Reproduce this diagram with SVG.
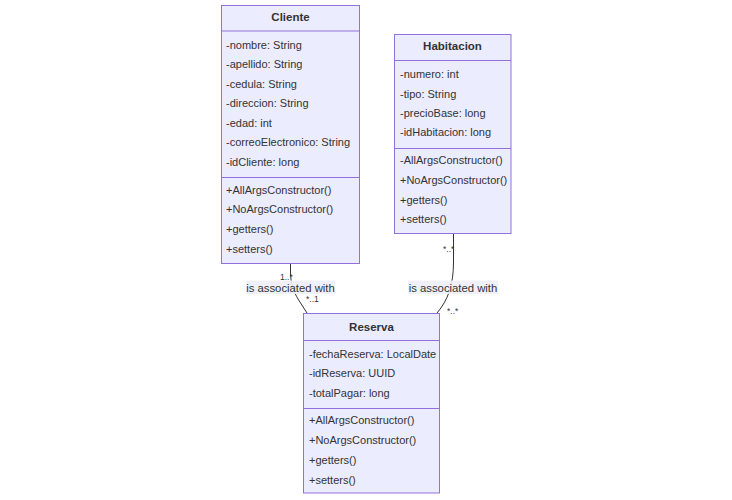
<svg xmlns="http://www.w3.org/2000/svg" width="732" height="500" viewBox="0 0 732 500">
  <style>
    .box { fill: #ECECFF; stroke: #9370DB; stroke-width: 1; }
    .sep { stroke: #9370DB; stroke-width: 1; }
    .title { font-family: "Liberation Sans", Arial, sans-serif; font-size: 11.5px; font-weight: bold; fill: #333; text-anchor: middle; }
    .member { font-family: "Liberation Sans", Arial, sans-serif; font-size: 11px; fill: #333; }
    .edge { fill: none; stroke: #333; stroke-width: 1; }
    .elabel-bg { fill: #EEEEFA; opacity: 0.9; }
    .elabel { font-family: "Liberation Sans", Arial, sans-serif; font-size: 11.3px; fill: #333; text-anchor: middle; }
    .mult { font-family: "Liberation Sans", Arial, sans-serif; font-size: 8.5px; fill: #333; }
  </style>

  <rect width="732" height="500" fill="#ffffff"/>

  <g id="connectors">
    <path class="edge" d="M290.5,263 L290.5,272 C290.5,284 294,292 298,299 L307,313"/>
    <path class="edge" d="M453.5,234 L453.5,262 C453.5,285 448,300 437,313"/>
    <rect class="elabel-bg" x="246" y="280.5" width="89" height="13.5"/>
    <text class="elabel" x="290.5" y="291.5">is associated with</text>
    <rect class="elabel-bg" x="408" y="280.5" width="90" height="13.5"/>
    <text class="elabel" x="453" y="291.5">is associated with</text>
    <text class="mult" x="280" y="279.5">1..*</text>
    <text class="mult" x="306" y="302">*..1</text>
    <text class="mult" x="443" y="252">*..*</text>
    <text class="mult" x="447" y="314">*..*</text>
  </g>

  <g id="Cliente">
    <rect class="box" x="221.5" y="5.5" width="138" height="258"/>
    <line class="sep" x1="221.5" y1="31" x2="359.5" y2="31"/>
    <line class="sep" x1="221.5" y1="177.5" x2="359.5" y2="177.5"/>
    <text class="title" x="290.5" y="21">Cliente</text>
    <text class="member" x="226" y="48.5">-nombre: String</text>
    <text class="member" x="226" y="67.5">-apellido: String</text>
    <text class="member" x="226" y="87.5">-cedula: String</text>
    <text class="member" x="226" y="106.5">-direccion: String</text>
    <text class="member" x="226" y="126.5">-edad: int</text>
    <text class="member" x="226" y="146">-correoElectronico: String</text>
    <text class="member" x="226" y="166">-idCliente: long</text>
    <text class="member" x="226" y="194">+AllArgsConstructor()</text>
    <text class="member" x="226" y="213">+NoArgsConstructor()</text>
    <text class="member" x="226" y="233">+getters()</text>
    <text class="member" x="226" y="252.5">+setters()</text>
  </g>

  <g id="Habitacion">
    <rect class="box" x="394.5" y="34.5" width="116.5" height="199"/>
    <line class="sep" x1="394.5" y1="60.5" x2="511" y2="60.5"/>
    <line class="sep" x1="394.5" y1="148.5" x2="511" y2="148.5"/>
    <text class="title" x="452.5" y="50">Habitacion</text>
    <text class="member" x="400" y="78">-numero: int</text>
    <text class="member" x="400" y="97.5">-tipo: String</text>
    <text class="member" x="400" y="117">-precioBase: long</text>
    <text class="member" x="400" y="136">-idHabitacion: long</text>
    <text class="member" x="400" y="164">-AllArgsConstructor()</text>
    <text class="member" x="400" y="184">+NoArgsConstructor()</text>
    <text class="member" x="400" y="203.5">+getters()</text>
    <text class="member" x="400" y="223">+setters()</text>
  </g>

  <g id="Reserva">
    <rect class="box" x="303.5" y="313.5" width="136" height="179.5"/>
    <line class="sep" x1="303.5" y1="340.5" x2="439.5" y2="340.5"/>
    <line class="sep" x1="303.5" y1="408.5" x2="439.5" y2="408.5"/>
    <text class="title" x="371.5" y="330.5">Reserva</text>
    <text class="member" x="309" y="358">-fechaReserva: LocalDate</text>
    <text class="member" x="309" y="377">-idReserva: UUID</text>
    <text class="member" x="309" y="396.5">-totalPagar: long</text>
    <text class="member" x="309" y="424">+AllArgsConstructor()</text>
    <text class="member" x="309" y="444">+NoArgsConstructor()</text>
    <text class="member" x="309" y="464">+getters()</text>
    <text class="member" x="309" y="483.5">+setters()</text>
  </g>
</svg>
